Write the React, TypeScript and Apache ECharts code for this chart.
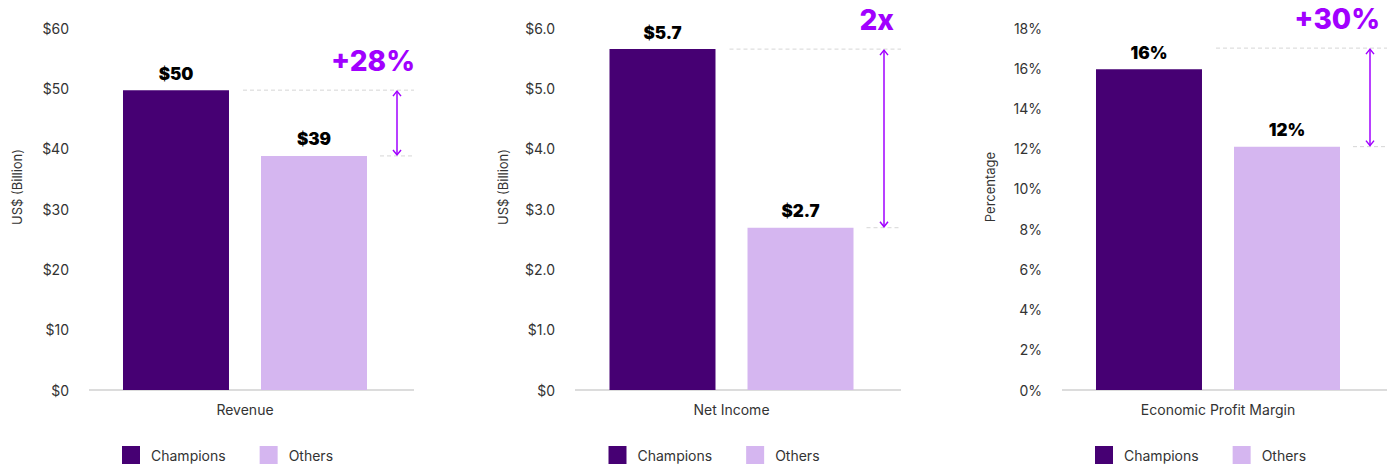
import React, { useEffect, useRef } from 'react';
import * as echarts from 'echarts';

const seriesNames = ['Champions', 'Others'];
const categories = ['Revenue', 'Net Income', 'Economic Profit Margin'];
const championsValues = [49.7, 5.65, 15.95];
const othersValues = [38.8, 2.69, 12.1];
const championsLabels = ['$50', '$5.7', '16%'];
const othersLabels = ['$39', '$2.7', '12%'];
const axisNames = ['US$ (Billion)', 'US$ (Billion)', 'Percentage'];
const axisMax = [60, 6, 18];
const axisInterval = [10, 1, 2];
const revenueTicks = ['$0', '$10', '$20', '$30', '$40', '$50', '$60'];
const incomeTicks = ['$0', '$1.0', '$2.0', '$3.0', '$4.0', '$5.0', '$6.0'];
const marginTicks = ['0%', '2%', '4%', '6%', '8%', '10%', '12%', '14%', '16%', '18%'];
const tickLabels = [revenueTicks, incomeTicks, marginTicks];
const comparisonLabels = ['+28%', '2x', '+30%'];
const comparisonTop = [49.7, 5.65, 17];
const comparisonBottom = [38.8, 2.69, 12.1];

// layout
const GRID_LEFT = [76, 562, 1049];
const GRID_RIGHT = [414, 901, 1387];
const GRID_TOP = 28;
const GRID_HEIGHT = 362;
const ANNOT_RIGHT_PAD = [-1, 7, 7];
const COLORS = ['#460073', '#d5b6f0'];
const ACCENT = '#a100ff';
const FONT = 'Inter, "Noto Sans", sans-serif';

export default function App() {
  const ref = useRef<HTMLDivElement>(null);
  useEffect(() => {
    if (!ref.current) return;
    const chart = echarts.init(ref.current, undefined, { renderer: 'svg' });
    const grids: any[] = [];
    const xAxes: any[] = [];
    const yAxes: any[] = [];
    const series: any[] = [];
    const legends: any[] = [];
    for (let i = 0; i < 3; i++) {
      const L = GRID_LEFT[i];
      const R = GRID_RIGHT[i];
      const center = (L + R) / 2;
      grids.push({ left: L, top: GRID_TOP, width: R - L, height: GRID_HEIGHT });
      xAxes.push({
        gridIndex: i,
        type: 'category',
        data: [categories[i]],
        axisLine: { show: false },
        axisTick: { show: false },
        axisLabel: { margin: 12, fontSize: 14, color: '#333', fontFamily: FONT },
      });
      const ticks = tickLabels[i];
      yAxes.push({
        gridIndex: i,
        type: 'value',
        min: 0,
        max: axisMax[i],
        interval: axisInterval[i],
        axisLine: { show: false },
        axisTick: { show: false },
        splitLine: { show: false },
        axisLabel: {
          margin: 7,
          fontSize: 14,
          color: '#333',
          fontFamily: FONT,
          formatter: (_v: number, idx: number) => ticks[idx],
        },
      });
      const vals = [championsValues[i], othersValues[i]];
      const labs = [championsLabels[i], othersLabels[i]];
      for (let s = 0; s < 2; s++) {
        series.push({
          type: 'bar',
          name: seriesNames[s],
          xAxisIndex: i,
          yAxisIndex: i,
          data: [vals[s]],
          barWidth: 106,
          barGap: '30.2%',
          itemStyle: { color: COLORS[s] },
          label: {
            show: true,
            position: 'top',
            distance: 8,
            formatter: labs[s],
            fontSize: 17,
            fontWeight: 900,
            color: '#000',
            fontFamily: FONT,
          },
        });
      }
      legends.push({
        data: seriesNames,
        left: center - 123,
        top: 446,
        padding: 0,
        itemWidth: 18,
        itemHeight: 18,
        itemGap: 34,
        icon: 'rect',
        selectedMode: false,
        textStyle: {
          fontSize: 14,
          color: '#333',
          fontFamily: FONT,
          width: 80,
          padding: [0, 0, 0, 6],
        },
      });
    }
    chart.setOption({
      animation: false,
      textStyle: { fontFamily: FONT },
      grid: grids,
      xAxis: xAxes,
      yAxis: yAxes,
      series,
      legend: legends,
    });

    const graphics: any[] = [];
    for (let i = 0; i < 3; i++) {
      const L = GRID_LEFT[i];
      const R = GRID_RIGHT[i];
      const center = (L + R) / 2;
      const yBase = chart.convertToPixel({ yAxisIndex: i }, 0) as number;
      const yTop = chart.convertToPixel({ yAxisIndex: i }, comparisonTop[i]) as number;
      const yBot = chart.convertToPixel({ yAxisIndex: i }, comparisonBottom[i]) as number;
      const ax = R - 17;
      graphics.push({
        type: 'line',
        z: 1,
        shape: { x1: L + 13, y1: yBase, x2: R, y2: yBase },
        style: { stroke: '#dcdcdc', lineWidth: 2 },
      });
      graphics.push({
        type: 'text',
        x: L - 59,
        y: 187,
        rotation: Math.PI / 2,
        style: {
          text: axisNames[i],
          fontSize: 13,
          fill: '#333',
          fontFamily: FONT,
          textAlign: 'center',
          textVerticalAlign: 'middle',
        },
      });
      graphics.push({
        type: 'line',
        shape: { x1: center - 2, y1: yTop, x2: R, y2: yTop },
        style: { stroke: '#d6d6d6', lineWidth: 1, lineDash: [4, 3] },
      });
      graphics.push({
        type: 'line',
        shape: { x1: center + 135, y1: yBot, x2: R, y2: yBot },
        style: { stroke: '#d6d6d6', lineWidth: 1, lineDash: [4, 3] },
      });
      graphics.push({
        type: 'line',
        shape: { x1: ax, y1: yTop + 1, x2: ax, y2: yBot - 1 },
        style: { stroke: ACCENT, lineWidth: 1.5 },
      });
      graphics.push({
        type: 'polyline',
        shape: { points: [[ax - 4, yTop + 6], [ax, yTop + 1], [ax + 4, yTop + 6]] },
        style: { stroke: ACCENT, lineWidth: 1.5, fill: null },
      });
      graphics.push({
        type: 'polyline',
        shape: { points: [[ax - 4, yBot - 6], [ax, yBot - 1], [ax + 4, yBot - 6]] },
        style: { stroke: ACCENT, lineWidth: 1.5, fill: null },
      });
      graphics.push({
        type: 'text',
        x: R - ANNOT_RIGHT_PAD[i],
        y: yTop - 29.5,
        style: {
          text: comparisonLabels[i],
          fontSize: 28,
          fontWeight: 800,
          fill: ACCENT,
          fontFamily: FONT,
          textAlign: 'right',
          textVerticalAlign: 'middle',
        },
      });
    }
    chart.setOption({ graphic: graphics });
    return () => chart.dispose();
  }, []);
  return (
    <div
      ref={ref}
      style={{ position: 'fixed', left: 0, top: 0, width: 1390, height: 466, background: '#fff' }}
    />
  );
}
